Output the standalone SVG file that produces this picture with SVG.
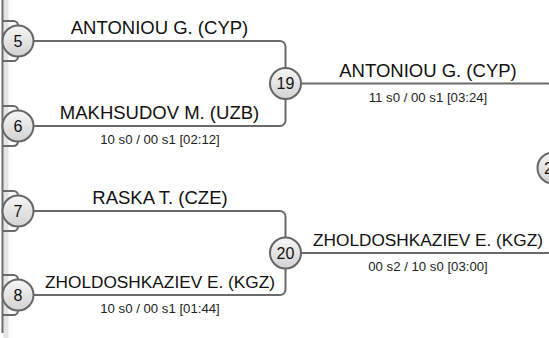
<svg xmlns="http://www.w3.org/2000/svg" width="549" height="338" viewBox="0 0 549 338">
<defs>
<linearGradient id="cg" x1="0" y1="0" x2="0" y2="1">
<stop offset="0" stop-color="#f6f6f6"/>
<stop offset="1" stop-color="#d2d2d2"/>
</linearGradient>
</defs>
<style>
.con{fill:none;stroke:#6a6a6a;stroke-width:2}
.node circle{fill:url(#cg);stroke:#666;stroke-width:2}
.num{font-family:"Liberation Sans",Arial,sans-serif;font-size:16px;fill:#111;text-anchor:middle}
.name{font-family:"Liberation Sans",Arial,sans-serif;font-size:18.5px;fill:#111;text-anchor:middle}
.long{font-size:17.25px}
.score{font-family:"Liberation Sans",Arial,sans-serif;font-size:13.2px;fill:#222;text-anchor:middle}
</style>
<rect x="3.5" y="0" width="5" height="338" fill="#e4e4e4"/>
<g id="connectors">
<path class="con" d="M2.5 0 V333"/>
<path class="con" d="M2.5 21 H13.5 A4.5 4.5 0 0 1 18 25.5 M2.5 61 H13.5 A4.5 4.5 0 0 0 18 56.5"/>
<path class="con" d="M2.5 106 H13.5 A4.5 4.5 0 0 1 18 110.5 M2.5 146 H13.5 A4.5 4.5 0 0 0 18 141.5"/>
<path class="con" d="M2.5 191 H13.5 A4.5 4.5 0 0 1 18 195.5 M2.5 231 H13.5 A4.5 4.5 0 0 0 18 226.5"/>
<path class="con" d="M2.5 275 H13.5 A4.5 4.5 0 0 1 18 279.5 M2.5 315 H13.5 A4.5 4.5 0 0 0 18 310.5"/>
<path class="con" d="M33.5 41 H280 A5.5 5.5 0 0 1 285.5 46.5 V68"/>
<path class="con" d="M33.5 126 H280 A5.5 5.5 0 0 0 285.5 120.5 V99"/>
<path class="con" d="M33.5 211 H280 A5.5 5.5 0 0 1 285.5 216.5 V237.5"/>
<path class="con" d="M33.5 295 H280 A5.5 5.5 0 0 0 285.5 289.5 V268.5"/>
<path class="con" d="M301 83.5 H547.5 A5.5 5.5 0 0 1 553 89 V152.5"/>
<path class="con" d="M301 253 H547.5 A5.5 5.5 0 0 0 553 247.5 V183.5"/>
</g>
<g id="labels">
<text class="name" x="159.5" y="34">ANTONIOU G. (CYP)</text>
<text class="name" x="159.5" y="119">MAKHSUDOV M. (UZB)</text>
<text class="score" x="160" y="144">10 s0 / 00 s1 [02:12]</text>
<text class="name" x="160" y="204">RASKA T. (CZE)</text>
<text class="name long" x="160" y="288">ZHOLDOSHKAZIEV E. (KGZ)</text>
<text class="score" x="160" y="313">10 s0 / 00 s1 [01:44]</text>
<text class="name" x="428" y="77">ANTONIOU G. (CYP)</text>
<text class="score" x="428" y="101.5">11 s0 / 00 s1 [03:24]</text>
<text class="name long" x="428" y="246">ZHOLDOSHKAZIEV E. (KGZ)</text>
<text class="score" x="428" y="271">00 s2 / 10 s0 [03:00]</text>
</g>
<g id="n5" class="node"><circle cx="18" cy="41" r="15.5"/><text class="num" x="18" y="46.7">5</text></g>
<g id="n6" class="node"><circle cx="18" cy="126" r="15.5"/><text class="num" x="18" y="131.7">6</text></g>
<g id="n7" class="node"><circle cx="18" cy="211" r="15.5"/><text class="num" x="18" y="216.7">7</text></g>
<g id="n8" class="node"><circle cx="18" cy="295" r="15.5"/><text class="num" x="18" y="300.7">8</text></g>
<g id="n19" class="node"><circle cx="285.5" cy="83.5" r="15.5"/><text class="num" x="285.5" y="89.2">19</text></g>
<g id="n20" class="node"><circle cx="285.5" cy="253" r="15.5"/><text class="num" x="285.5" y="258.7">20</text></g>
<g id="n21" class="node"><circle cx="553" cy="168" r="15.5"/><text class="num" x="553" y="173.7">21</text></g>
</svg>
